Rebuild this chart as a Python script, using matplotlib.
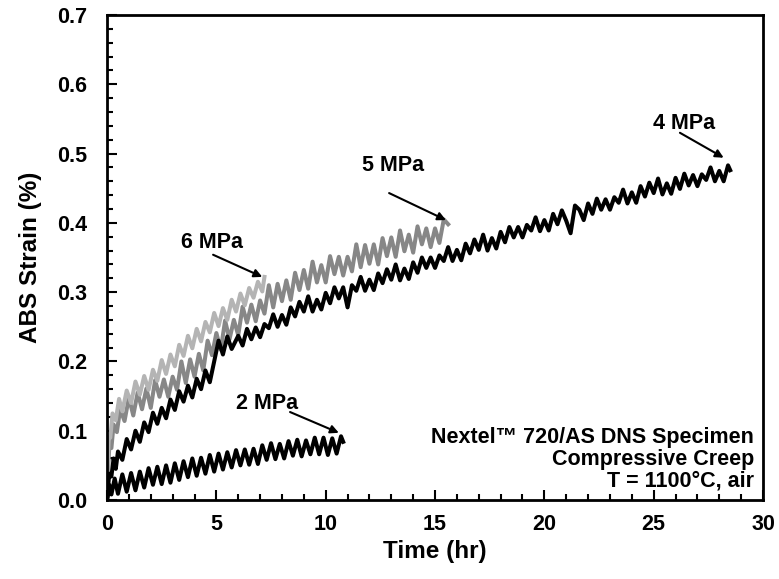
import matplotlib
matplotlib.use("Agg")
import matplotlib.pyplot as plt
from matplotlib.ticker import MultipleLocator, FormatStrFormatter

plt.rcParams['font.family'] = ['Liberation Sans', 'DejaVu Sans']
plt.rcParams['font.weight'] = 'bold'

# 4 MPa (black)
t_4mpa = [0.0, 0.05, 0.1, 0.2, 0.3, 0.4, 0.5, 0.7, 0.9, 1.1, 1.3, 1.5, 1.7, 1.9, 2.1, 2.3, 2.5,
          2.7, 2.9, 3.1, 3.3, 3.5, 3.7, 3.9, 4.1, 4.3, 4.5, 4.7, 4.9, 5.1, 5.3, 5.5, 5.7,
          6.0, 6.2, 6.4, 6.6, 6.8, 7.0, 7.2, 7.4, 7.6, 7.8, 8.0, 8.2, 8.4, 8.6, 8.8,
          9.0, 9.2, 9.4, 9.6, 9.8, 10.0, 10.2, 10.4, 10.6, 10.8, 11.0, 11.2, 11.4, 11.6, 11.8,
          12.0, 12.2, 12.4, 12.6, 12.8, 13.0, 13.2, 13.4, 13.6, 13.8, 14.0, 14.2, 14.4, 14.6, 14.8,
          15.0, 15.2, 15.4, 15.6, 15.8, 16.0, 16.2, 16.4, 16.6, 16.8, 17.0, 17.2, 17.4, 17.6, 17.8,
          18.0, 18.2, 18.4, 18.6, 18.8, 19.0, 19.2, 19.4, 19.6, 19.8, 20.0, 20.2, 20.4, 20.6, 20.8,
          21.0, 21.2, 21.4, 21.6, 21.8, 22.0, 22.2, 22.4, 22.6, 22.8, 23.0, 23.2, 23.4, 23.6, 23.8,
          24.0, 24.2, 24.4, 24.6, 24.8, 25.0, 25.2, 25.4, 25.6, 25.8, 26.0, 26.2, 26.4, 26.6, 26.8,
          27.0, 27.2, 27.4, 27.6, 27.8, 28.0, 28.2, 28.4, 28.5]
s_4mpa = [0.0, 0.02, 0.038, 0.034, 0.06, 0.045, 0.07, 0.058, 0.088, 0.073, 0.10, 0.084, 0.112,
          0.098, 0.126, 0.11, 0.133, 0.118, 0.145, 0.13, 0.157, 0.142, 0.165, 0.148, 0.175,
          0.16, 0.187, 0.17, 0.2, 0.23, 0.21, 0.236, 0.218,
          0.237, 0.223, 0.247, 0.232, 0.249, 0.235, 0.254, 0.248, 0.268, 0.250,
          0.267, 0.253, 0.278, 0.265, 0.286, 0.272, 0.294, 0.272, 0.289, 0.275,
          0.299, 0.284, 0.307, 0.291, 0.307, 0.278, 0.310, 0.302, 0.322, 0.302,
          0.318, 0.303, 0.327, 0.313, 0.333, 0.318, 0.340, 0.317, 0.334, 0.319,
          0.343, 0.328, 0.350, 0.335, 0.350, 0.335, 0.353, 0.345, 0.365, 0.345,
          0.361, 0.346, 0.370, 0.356, 0.376, 0.361, 0.383, 0.360, 0.378, 0.363,
          0.387, 0.372, 0.394, 0.379, 0.394, 0.379, 0.397, 0.389, 0.408, 0.388,
          0.404, 0.389, 0.413, 0.398, 0.418, 0.403, 0.385, 0.425, 0.419, 0.404,
          0.428, 0.413, 0.435, 0.419, 0.434, 0.419, 0.437, 0.429, 0.448, 0.428,
          0.444, 0.429, 0.453, 0.438, 0.458, 0.443, 0.464, 0.441, 0.457, 0.442,
          0.465, 0.449, 0.471, 0.454, 0.469, 0.453, 0.470, 0.462, 0.480, 0.460,
          0.475, 0.460, 0.483, 0.476]

# 5 MPa (medium grey)
t_5mpa = [0.0, 0.05, 0.1, 0.2, 0.3, 0.45, 0.6, 0.8, 1.0, 1.2, 1.4, 1.6, 1.8,
          2.0, 2.2, 2.4, 2.6, 2.8, 3.0, 3.2, 3.4, 3.6, 3.8, 4.0, 4.2, 4.4, 4.6, 4.8,
          5.0, 5.2, 5.4, 5.6, 5.8, 6.0, 6.2, 6.4, 6.6, 6.8, 7.0, 7.2, 7.4, 7.6, 7.8,
          8.0, 8.2, 8.4, 8.6, 8.8, 9.0, 9.2, 9.4, 9.6, 9.8, 10.0, 10.2, 10.4, 10.6, 10.8,
          11.0, 11.2, 11.4, 11.6, 11.8, 12.0, 12.2, 12.4, 12.6, 12.8, 13.0, 13.2, 13.4, 13.6, 13.8,
          14.0, 14.2, 14.4, 14.6, 14.8, 15.0, 15.2, 15.4, 15.6]
s_5mpa = [0.0, 0.045, 0.075, 0.075, 0.109, 0.098, 0.131, 0.114, 0.148, 0.122, 0.155, 0.131, 0.161,
          0.133, 0.173, 0.149, 0.174, 0.149, 0.178, 0.159, 0.200, 0.169, 0.203,
          0.178, 0.211, 0.187, 0.230, 0.209, 0.241, 0.217, 0.259, 0.232, 0.260,
          0.238, 0.279, 0.256, 0.282, 0.258, 0.288, 0.269, 0.310, 0.278, 0.312,
          0.287, 0.317, 0.289, 0.328, 0.303, 0.332, 0.305, 0.344, 0.314, 0.339,
          0.314, 0.352, 0.326, 0.351, 0.324, 0.351, 0.330, 0.369, 0.336, 0.368,
          0.341, 0.369, 0.340, 0.378, 0.352, 0.379, 0.351, 0.389, 0.359, 0.383,
          0.357, 0.395, 0.369, 0.392, 0.365, 0.392, 0.371, 0.405, 0.398]

# 6 MPa (light grey)
t_6mpa = [0.0, 0.03, 0.08, 0.15, 0.25, 0.4, 0.55, 0.7, 0.9, 1.1, 1.3, 1.5, 1.7, 1.9, 2.1, 2.3,
          2.5, 2.7, 2.9, 3.1, 3.3, 3.5, 3.7, 3.9, 4.1, 4.3, 4.5, 4.7, 4.9, 5.1, 5.3, 5.5, 5.7,
          5.9, 6.1, 6.3, 6.5, 6.7, 6.9, 7.1, 7.2]
s_6mpa = [0.0, 0.05, 0.09, 0.09, 0.125, 0.115, 0.146, 0.128, 0.158, 0.14, 0.171, 0.152, 0.179,
          0.159, 0.188, 0.172, 0.202, 0.182, 0.21, 0.193, 0.224, 0.208, 0.237, 0.219, 0.247,
          0.229, 0.257, 0.242, 0.27, 0.251, 0.277, 0.26, 0.289, 0.272, 0.298, 0.281, 0.306,
          0.292, 0.315, 0.301, 0.322]

# 2 MPa (black)
t_2mpa = [0.0, 0.05, 0.1, 0.2, 0.35, 0.5, 0.7, 0.9, 1.1, 1.3, 1.5, 1.7, 1.9, 2.1, 2.3, 2.5,
          2.7, 2.9, 3.1, 3.3, 3.5, 3.7, 3.9, 4.1, 4.3, 4.5, 4.7, 4.9, 5.1, 5.3, 5.5, 5.7, 5.9,
          6.1, 6.3, 6.5, 6.7, 6.9, 7.1, 7.3, 7.5, 7.7, 7.9, 8.1, 8.3, 8.5, 8.7, 8.9, 9.1, 9.3,
          9.5, 9.7, 9.9, 10.1, 10.3, 10.5, 10.7, 10.8]
s_2mpa = [0.0, 0.008, 0.022, 0.008, 0.031, 0.009, 0.037, 0.012, 0.039, 0.014, 0.041, 0.018,
          0.046, 0.022, 0.048, 0.023, 0.05, 0.025, 0.053, 0.029, 0.056, 0.033, 0.06, 0.035,
          0.061, 0.038, 0.065, 0.041, 0.067, 0.044, 0.069, 0.047, 0.072, 0.05,
          0.073, 0.051, 0.074, 0.052, 0.079, 0.058, 0.082, 0.059, 0.081, 0.060, 0.085, 0.064,
          0.087, 0.063, 0.086, 0.066, 0.090, 0.066, 0.090, 0.065, 0.089, 0.067, 0.092, 0.084]

fig = plt.figure(figsize=(7.79, 5.79), dpi=100)
ax = fig.add_axes([0.1374, 0.1364, 0.8421, 0.8377])

ax.plot(t_5mpa, s_5mpa, color='#878787', lw=2.9)
ax.plot(t_6mpa, s_6mpa, color='#b4b4b4', lw=2.9)
ax.plot(t_4mpa, s_4mpa, color='black', lw=2.9)
ax.plot(t_2mpa, s_2mpa, color='black', lw=2.9)

arrow = dict(arrowstyle='-|>', color='black', lw=1.5, mutation_scale=12, shrinkA=0, shrinkB=0)
labels = ['6 MPa', '5 MPa', '4 MPa', '2 MPa']
label_xy = [(4.8, 0.371), (13.1, 0.483), (26.4, 0.544), (7.3, 0.14)]
tail_xy = [(4.85, 0.354), (12.9, 0.443), (26.2, 0.53), (8.37, 0.127)]
tip_xy = [(7.1, 0.322), (15.5, 0.404), (28.2, 0.494), (10.6, 0.097)]
for lab, lxy, txy, hxy in zip(labels, label_xy, tail_xy, tip_xy):
    ax.text(lxy[0], lxy[1], lab, ha='center', va='center', fontsize=15.5, fontweight='bold')
    ax.annotate('', xy=hxy, xytext=txy, arrowprops=arrow)

ax.text(29.6, 0.059, 'Nextel\u2122 720/AS DNS Specimen\nCompressive Creep\nT = 1100\u00b0C, air',
        ha='right', va='center', multialignment='right', fontsize=15.5, fontweight='bold',
        linespacing=1.05)

ax.set_xlim(0, 30)
ax.set_ylim(0, 0.7)
ax.xaxis.set_major_locator(MultipleLocator(5))
ax.xaxis.set_minor_locator(MultipleLocator(1))
ax.yaxis.set_major_locator(MultipleLocator(0.1))
ax.yaxis.set_minor_locator(MultipleLocator(0.02))
ax.yaxis.set_major_formatter(FormatStrFormatter('%.1f'))
ax.tick_params(which='both', direction='in', top=False, right=False, width=1.5)
ax.tick_params(which='major', length=7, labelsize=15.5)
ax.tick_params(axis='x', which='major', pad=10)
ax.tick_params(axis='y', which='major', pad=14)
ax.tick_params(which='minor', length=4)
for lab in ax.get_xticklabels() + ax.get_yticklabels():
    lab.set_fontweight('bold')
for sp in ax.spines.values():
    sp.set_linewidth(2)

ax.set_xlabel('Time (hr)', fontsize=17.5, fontweight='bold', labelpad=4)
ax.set_ylabel('ABS Strain (%)', fontsize=17.5, fontweight='bold', labelpad=11)

fig.savefig('out.png', dpi=100)
